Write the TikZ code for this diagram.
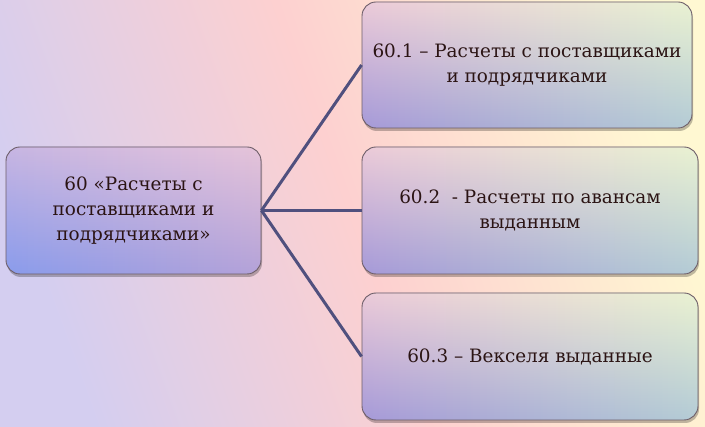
\documentclass[tikz,border=0pt]{standalone}
\usepackage{fontspec}
\setmainfont{DejaVu Serif}
\newfontfamily\boxfont{DejaVu Serif}
\usetikzlibrary{shadows,fadings}
\definecolor{bgL}{HTML}{D4CEF0}
\definecolor{bgM}{HTML}{FDD0D0}
\definecolor{bgR}{HTML}{FFF8D2}
\definecolor{rTL}{HTML}{ECCBD8}
\definecolor{rTR}{HTML}{EAF2D2}
\definecolor{rBL}{HTML}{A69AD8}
\definecolor{rBR}{HTML}{B4CCD6}
\definecolor{lTL}{HTML}{C8B6E2}
\definecolor{lTR}{HTML}{E6C4DA}
\definecolor{lBL}{HTML}{8A9CEC}
\definecolor{lBR}{HTML}{B4A2D8}
\definecolor{boxborder}{HTML}{6E5E68}
\definecolor{txt}{HTML}{2B1414}
\definecolor{conncol}{HTML}{50507E}
\tikzfading[name=fadetop, top color=transparent!0, bottom color=transparent!100]
\pgfdeclarehorizontalshading{bgshade}{100bp}{color(0bp)=(bgL); color(25bp)=(bgL); color(50bp)=(bgM); color(75bp)=(bgR); color(100bp)=(bgR)}
\tikzset{
  box/.style={rounded corners=14pt, draw=boxborder, line width=0.9pt, align=center,
    text=txt, font=\boxfont\fontsize{18.4}{25}\selectfont, inner sep=0pt,
    drop shadow={shadow xshift=1pt, shadow yshift=-3pt, opacity=0.25, fill=black}},
  rbox/.style={box, left color=rBL, right color=rBR,
    path picture={\shade[left color=rTL, right color=rTR, path fading=fadetop]
      (path picture bounding box.south west) rectangle (path picture bounding box.north east);}},
  lbox/.style={box, left color=lBL, right color=lBR,
    path picture={\shade[left color=lTL, right color=lTR, path fading=fadetop]
      (path picture bounding box.south west) rectangle (path picture bounding box.north east);}},
  conn/.style={draw=conncol, line width=3pt}
}
\begin{document}
\begin{tikzpicture}[x=1pt,y=-1pt]
\shade[shading=bgshade, shading angle=20] (0,0) rectangle (705,427);
\useasboundingbox (0,0) rectangle (705,427);
\node[lbox, minimum width=255pt, minimum height=127pt] (L) at (133.5,210.5)
  {60 «Расчеты с\\поставщиками и\\подрядчиками»};
\node[rbox, minimum width=330pt, minimum height=126pt] (A) at (527,65)
  {60.1 – Расчеты с поставщиками\\и подрядчиками};
\node[rbox, minimum width=336pt, minimum height=127pt] (B) at (530,210.5)
  {60.2 \ - Расчеты по авансам\\выданным};
\node[rbox, minimum width=336pt, minimum height=127pt] (C) at (530,356.5)
  {60.3 – Векселя выданные};
\draw[conn] (L.east) -- (A.west);
\draw[conn] (L.east) -- (B.west);
\draw[conn] (L.east) -- (C.west);
\end{tikzpicture}
\end{document}
